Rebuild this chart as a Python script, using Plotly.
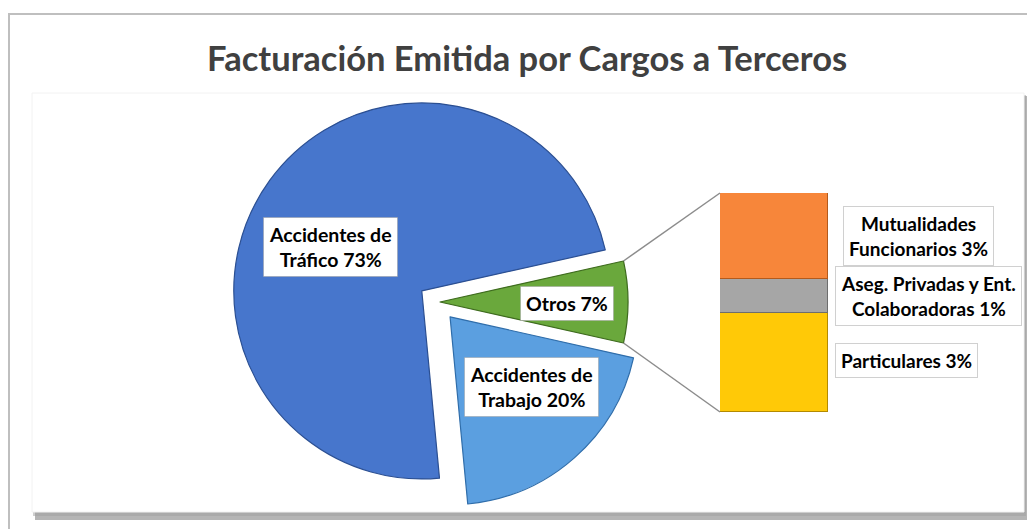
import math
import plotly.graph_objects as go

# ---------------- data ----------------
pie_labels = ["Otros", "Accidentes de<br>Trabajo", "Accidentes de<br>Tráfico"]
pie_values = [7, 20, 73]
pie_colors = ["#6AA83C", "#5B9FE0", "#4776CC"]
pie_lines = ["#3E6B1E", "#2F6DAA", "#2B4F92"]
pie_pull = [0.016, 0.105, 0.10]

bar_labels = ["Particulares", "Aseg. Privadas y Ent.<br>Colaboradoras", "Mutualidades<br>Funcionarios"]
bar_values = [3.15, 1.10, 2.75]
bar_colors = ["#FFC907", "#A6A6A6", "#F7863A"]
bar_lines = ["#B38A00", "#6E6E6E", "#B35A1C"]

title_text = "Facturación Emitida por Cargos a Terceros"

# ---------------- layout helpers (pixel -> paper) ----------------
W, H = 1027, 529
def PX(x):
    return x / W
def PY(y):
    return 1 - y / H

FONT = "Lato, 'Open Sans', sans-serif"

# pie geometry
pcx, pcy, pr = 437, 302, 188
maxpull = max(pie_pull)
half = pr * (1 + maxpull)
total = sum(pie_values)
rotation = 90 - pie_values[0] / total * 360 / 2

# bar geometry
bx0, bx1, by0, by1 = 720, 828, 193, 412

fig = go.Figure()

fig.add_trace(go.Pie(
    labels=pie_labels, values=pie_values, sort=False, direction="clockwise",
    rotation=rotation, pull=pie_pull, textinfo="none", hoverinfo="label+percent",
    marker=dict(colors=pie_colors, line=dict(color=pie_lines, width=1.2)),
    domain=dict(x=[PX(pcx - half), PX(pcx + half)], y=[PY(pcy + half), PY(pcy - half)]),
    showlegend=False,
))

for lab, v, c, lc in zip(bar_labels, bar_values, bar_colors, bar_lines):
    fig.add_trace(go.Bar(
        x=[0], y=[v], width=1, name=lab.replace("<br>", " "),
        marker=dict(color=c, line=dict(color=lc, width=1.5)),
        showlegend=False, hoverinfo="name+y",
    ))

bar_total = sum(bar_values)

annotations = []

def boxed(text, x, y, xref, yref, size, xanchor="center", xshift=0, yshift=0):
    annotations.append(dict(
        text="<b>" + text + "</b>", x=x, y=y, xref=xref, yref=yref, showarrow=False,
        font=dict(family=FONT, size=size, color="#000000"),
        bgcolor="#FFFFFF", bordercolor="rgba(150,150,150,0.45)", borderwidth=1,
        borderpad=5, xanchor=xanchor, yanchor="middle",
        xshift=xshift, yshift=yshift, align="center",
    ))

# pie labels
pie_label_pos = {0: (567, 303), 1: (531, 387), 2: (330, 247)}
for i, (lab, v) in enumerate(zip(pie_labels, pie_values)):
    lx, ly = pie_label_pos[i]
    boxed(f"{lab} {round(v / total * 100)}%", PX(lx), PY(ly), "paper", "paper", 19.5)

# bar labels
cum = 0
bar_shift = [7, 7, 15]
bar_yshift = [2, 0, 0]
for lab, v, sh, ys in zip(bar_labels, bar_values, bar_shift, bar_yshift):
    mid = cum + v / 2
    cum += v
    boxed(f"{lab} {round(v)}%", 0.5, mid, "x", "y", 19, xanchor="left", xshift=sh, yshift=ys)

# title
annotations.append(dict(
    text="<b>" + title_text + "</b>", x=PX(527), y=PY(57), xref="paper", yref="paper",
    showarrow=False, font=dict(family=FONT, size=34.5, color="#404040"),
    xanchor="center", yanchor="middle",
))

# connector lines from "Otros" slice corners to the bar
half_ang = math.radians(pie_values[0] / total * 360 / 2)
ocx = pcx + pie_pull[0] * pr
top_corner = (ocx + pr * math.cos(half_ang), pcy - pr * math.sin(half_ang))
bot_corner = (ocx + pr * math.cos(half_ang), pcy + pr * math.sin(half_ang))

shapes = [
    # outer chart border
    dict(type="rect", xref="paper", yref="paper", x0=PX(9), x1=PX(1060), y0=PY(560), y1=PY(14),
         line=dict(color="#BFBFBF", width=2), fillcolor="rgba(0,0,0,0)", layer="below"),
    # plot area shadow
    dict(type="rect", xref="paper", yref="paper", x0=PX(35), x1=PX(1027), y0=PY(520), y1=PY(96),
         line=dict(width=0), fillcolor="rgba(120,120,120,0.55)", layer="below"),
    dict(type="rect", xref="paper", yref="paper", x0=PX(33), x1=PX(1026), y0=PY(516), y1=PY(95),
         line=dict(width=0), fillcolor="rgba(160,160,160,0.5)", layer="below"),
    # plot area
    dict(type="rect", xref="paper", yref="paper", x0=PX(32), x1=PX(1024), y0=PY(512), y1=PY(93),
         line=dict(color="#F2F2F2", width=1), fillcolor="#FFFFFF", layer="below"),
    # connectors
    dict(type="line", xref="paper", yref="paper",
         x0=PX(top_corner[0]), y0=PY(top_corner[1]), x1=PX(bx0), y1=PY(by0),
         line=dict(color="#8C8C8C", width=1.5)),
    dict(type="line", xref="paper", yref="paper",
         x0=PX(bot_corner[0]), y0=PY(bot_corner[1]), x1=PX(bx0), y1=PY(by1),
         line=dict(color="#8C8C8C", width=1.5)),
]

fig.update_layout(
    width=W, height=H, margin=dict(l=0, r=0, t=0, b=0),
    paper_bgcolor="#FFFFFF", plot_bgcolor="rgba(0,0,0,0)",
    barmode="stack", bargap=0,
    xaxis=dict(domain=[PX(bx0), PX(bx1)], range=[-0.5, 0.5], visible=False, fixedrange=True),
    yaxis=dict(domain=[PY(by1), PY(by0)], range=[0, bar_total], visible=False, fixedrange=True),
    annotations=annotations, shapes=shapes,
)

fig.write_html(
    "out.html",
    config={"displayModeBar": False},
    post_script="document.body.style.margin='0px';document.body.style.padding='0px';",
)
